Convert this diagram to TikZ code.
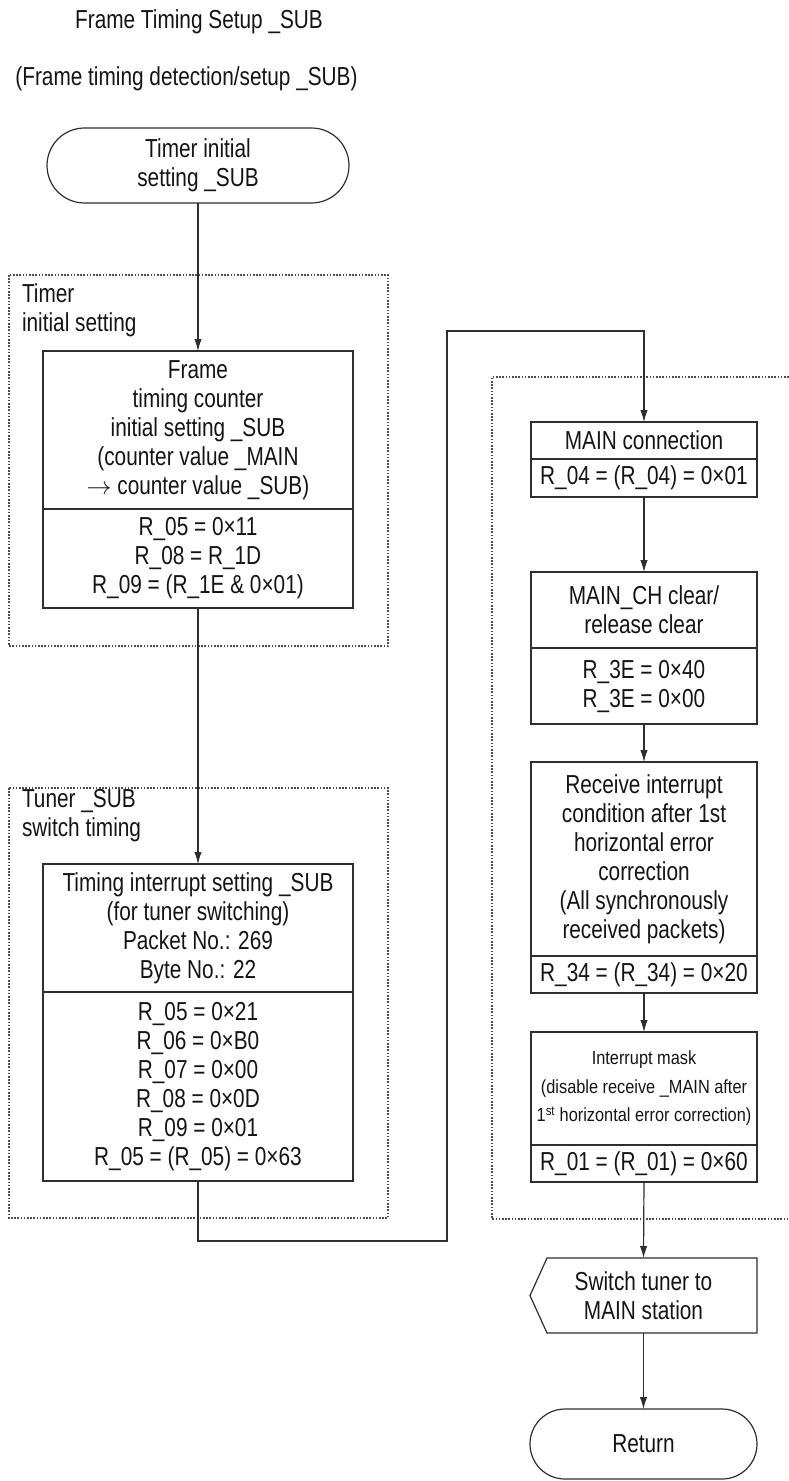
\documentclass[tikz,border=0pt]{standalone}
\usepackage{fontspec}
\setmainfont{Liberation Sans}[FakeStretch=0.8]
\newfontfamily\smallfam{Liberation Sans}[FakeStretch=0.86]
\usetikzlibrary{arrows.meta}
\definecolor{linec}{HTML}{2E2E2E}
\definecolor{txtc}{HTML}{141414}
\begin{document}
\begin{tikzpicture}[x=1pt,y=-1pt,
  every node/.style={text=txtc, font=\fontsize{26}{29}\selectfont, inner sep=0pt, outer sep=0pt},
  part/.style={draw=linec, line width=1.2pt, align=center, minimum width=#1},
  part/.default=310,
  small/.style={font=\smallfam\fontsize{19}{28.5}\selectfont},
  lbl/.style={anchor=north west, align=left},
  conn/.style={draw=linec, line width=1.2pt},
  arr/.style={conn, -{Latex[length=12pt,width=7.5pt]}},
  grp/.style={draw=linec!85, line width=1.1pt, dash pattern=on 1.6pt off 1.6pt},
  term/.style={draw=linec, line width=1.2pt, align=center}
]
\useasboundingbox (0,0) rectangle (788,1481);

% titles
\node[anchor=base] (title) at (199,28) {Frame Timing Setup \_SUB};
\node[anchor=base] (subtitle) at (186.5,85) {(Frame timing detection/setup \_SUB)};

% group frames
\draw[grp] (9,275) rectangle (388,646);
\node[lbl] (g1) at (22,284) {Timer\\initial setting};
\draw[grp] (9,788) rectangle (388,1218);
\node[lbl] (g2) at (22,789) {Tuner \_SUB\\switch timing};
\draw[grp] (792,377) -- (492,377) -- (492,1219) -- (792,1219);

% start terminal
\node[term, minimum width=302, minimum height=75, rounded corners=37.5] (start) at (198,165.5) {Timer initial\\setting \_SUB};

% box 1
\node[part, minimum height=158] (p1a) at (198,430) {Frame\\timing counter\\initial setting \_SUB\\(counter value \_MAIN\\$\rightarrow$ counter value \_SUB)};
\node[part, minimum height=99] (p1b) at (198,558.5) {R\_05 = 0×11\\R\_08 = R\_1D\\R\_09 = (R\_1E \& 0×01)};

% box 2
\node[part, minimum height=128] (p2a) at (198,928) {Timing interrupt setting \_SUB\\(for tuner switching)\\Packet No.: 269\\Byte No.: 22};
\node[part, minimum height=189] (p2b) at (198,1086.5) {R\_05 = 0×21\\R\_06 = 0×B0\\R\_07 = 0×00\\R\_08 = 0×0D\\R\_09 = 0×01\\R\_05 = (R\_05) = 0×63};

% right column
\node[part=226, minimum height=37] (m1a) at (644,440.5) {MAIN connection};
\node[part=226, minimum height=38] (m1b) at (644,478) {R\_04 = (R\_04) = 0×01};

\node[part=226, minimum height=76] (m2a) at (644,610) {MAIN\_CH clear/\\release clear};
\node[part=226, minimum height=76] (m2b) at (644,686) {R\_3E = 0×40\\R\_3E = 0×00};

\node[part=226, minimum height=194] (m3a) at (644,859) {Receive interrupt\\condition after 1st\\horizontal error\\correction\\(All synchronously\\received packets)};
\node[part=226, minimum height=37] (m3b) at (644,974.5) {R\_34 = (R\_34) = 0×20};

\node[part=226, minimum height=113, small] (m4a) at (644,1088.5) {Interrupt mask\\(disable receive \_MAIN after\\1\textsuperscript{st} horizontal error correction)};
\node[part=226, minimum height=37] (m4b) at (644,1163.5) {R\_01 = (R\_01) = 0×60};

% switch tuner (pentagon)
\node[align=center, minimum width=227, minimum height=75] (sw) at (643.5,1295.5) {Switch tuner to\\MAIN station};
\draw[conn] (sw.north east) -- (sw.south east) -- ([xshift=17pt]sw.south west) -- (sw.west) -- ([xshift=17pt]sw.north west) -- cycle;

% return terminal
\node[term, minimum width=227, minimum height=70, rounded corners=35] (ret) at (643.5,1444) {Return};

% connectors
\coordinate (jb) at (447,1241);
\coordinate (jt) at (447,331);
\draw[arr] (start.south) -- (p1a.north);
\draw[arr] (p1b.south) -- (p2a.north);
\draw[arr] (p2b.south) |- (jb) -- (jt) -| (m1a.north);
\draw[arr] (m1b.south) -- (m2a.north);
\draw[arr] (m2b.south) -- (m3a.north);
\draw[arr] (m3b.south) -- (m4a.north);
\draw[arr] (m4b.south) -- (sw.north);
\draw[arr] (sw.south) -- (ret.north);
\end{tikzpicture}
\end{document}
